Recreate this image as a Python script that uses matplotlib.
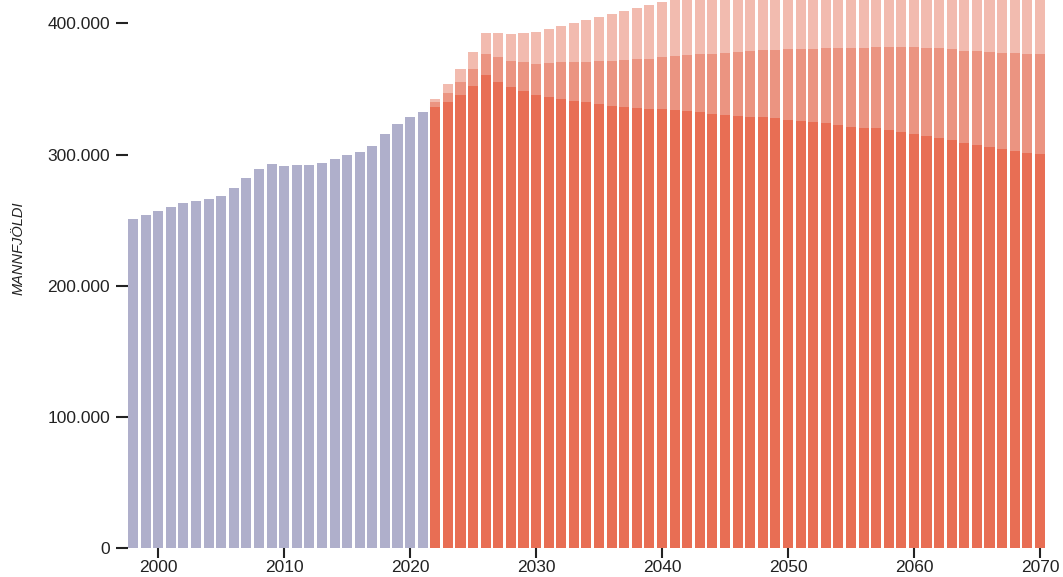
import numpy as np
import matplotlib
matplotlib.use("Agg")
import matplotlib.pyplot as plt
from matplotlib.ticker import FuncFormatter

plt.rcParams["font.family"] = ["Liberation Sans", "DejaVu Sans"]

# population in thousands
hist_years = list(range(1998, 2022))
hist = [251.3, 254.3, 256.9, 260.4, 263.0, 264.7, 266.0, 268.8, 274.6, 282.0,
        289.4, 293.2, 291.2, 291.7, 292.2, 293.7, 297.0, 299.5, 301.8, 306.9,
        315.8, 323.2, 329.0, 332.6]

proj_years = list(range(2022, 2071))
low = [336.4, 340.2, 345.3, 352.1, 360.5, 355.7, 351.4, 348.3, 345.5, 344.0,
       342.5, 341.0, 339.7, 338.4, 337.4, 336.4, 335.6, 334.8, 334.4, 333.8,
       333.1, 332.3, 331.3, 330.5, 329.5, 329.0, 328.5, 327.7, 326.7, 325.7,
       324.7, 323.7, 322.4, 321.4, 320.6, 319.9, 318.8, 317.6, 316.0, 314.3,
       312.7, 311.0, 309.0, 307.4, 305.9, 304.4, 302.9, 301.6, 300.6]
mid = [339.7, 346.6, 355.4, 364.9, 376.4, 374.0, 371.7, 370.4, 369.4, 369.7,
       370.2, 370.7, 370.9, 371.2, 371.7, 372.0, 372.7, 373.2, 374.0, 375.0,
       375.8, 376.3, 376.8, 377.6, 378.1, 378.8, 379.6, 379.8, 380.1, 380.4,
       380.6, 380.9, 380.9, 381.1, 381.6, 381.9, 382.1, 382.1, 381.9, 381.4,
       380.9, 380.1, 379.1, 378.6, 378.0, 377.5, 377.3, 376.8, 376.3]
high = [342.0, 353.9, 365.6, 378.3, 393.0, 392.3, 391.8, 392.3, 393.5, 395.6,
        398.2, 400.2, 402.4, 404.7, 407.0, 409.3, 412.0, 414.2, 416.4, 418.6,
        420.8, 423.0, 425.1, 427.2, 429.2, 431.1, 433.0, 434.8, 436.5, 438.1,
        439.6, 441.0, 442.3, 443.5, 444.6, 445.6, 446.5, 447.3, 448.0, 448.6,
        449.1, 449.5, 449.8, 450.0, 450.1, 450.1, 450.0, 449.8, 449.5]

PURPLE, LOW, MID, HIGH = "#afafcb", "#e86e54", "#eb9481", "#f2bbaf"
W = 0.8

fig = plt.figure(figsize=(10.63, 5.77), dpi=100)
ax = fig.add_axes([0.1204, 0.0497, 0.983 - 0.1204, 1 - 0.0497])

ax.bar(hist_years, np.array(hist) * 1000, width=W, color=PURPLE, linewidth=0)
ax.bar(proj_years, np.array(high) * 1000, width=W, color=HIGH, linewidth=0)
ax.bar(proj_years, np.array(mid) * 1000, width=W, color=MID, linewidth=0)
ax.bar(proj_years, np.array(low) * 1000, width=W, color=LOW, linewidth=0)

ax.set_xlim(1997.6, 2070.4)
ax.set_ylim(0, 417800)
ax.set_yticks([0, 100000, 200000, 300000, 400000])
ax.yaxis.set_major_formatter(FuncFormatter(lambda v, p: f"{int(v):,}".replace(",", ".")))
ax.set_xticks(range(2000, 2071, 10))

for s in ax.spines.values():
    s.set_visible(False)
ax.tick_params(axis="both", labelsize=12.5, colors="#222222", length=7, width=1.5)
ax.tick_params(axis="y", length=9, pad=4)
ax.tick_params(axis="x", pad=1.5)

fig.text(0.0175, 1 - 248 / 577, "MANNFJÖLDI", rotation=90, style="italic",
         fontsize=10.5, color="#222222", ha="center", va="center")

fig.savefig("out.png", dpi=100)
